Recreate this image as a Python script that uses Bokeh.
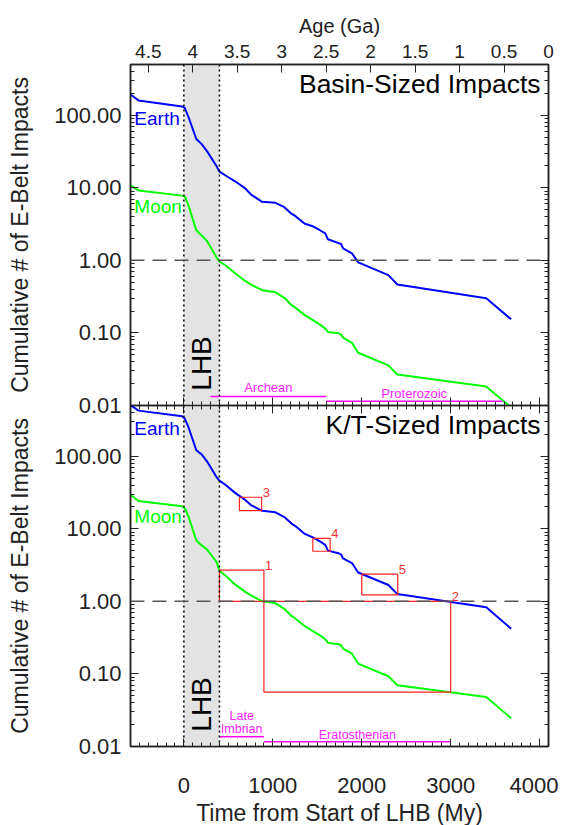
from bokeh.plotting import figure
from bokeh.models import (Range1d, LinearAxis, LogAxis, FixedTicker, PrintfTickFormatter,
                          Span, BoxAnnotation, Label, CustomJSTickFormatter)
from bokeh.layouts import column
from bokeh.embed import file_html
from bokeh.resources import INLINE

FONT = "Liberation Sans"
INK = "#222222"

# ---------------- data ----------------
time_my = [-600, -510, -20, 10, 50, 140, 200, 260, 370, 400, 460, 580, 690, 760, 880,
           1030, 1130, 1210, 1250, 1360, 1450, 1530, 1590, 1620, 1740, 1770, 1790,
           1890, 1960, 2300, 2400, 3400, 3680]

earth_basin = [193, 160, 132, 126, 96, 47, 40, 32, 19.6, 16.7, 15, 12.2, 9.8, 8.0, 6.4,
               6.2, 5.4, 4.4, 4.1, 3.2, 2.95, 2.6, 2.36, 1.95, 1.73, 1.68, 1.46,
               1.25, 0.94, 0.625, 0.465, 0.30, 0.154]
moon_basin = [10.8, 9.2, 7.8, 7.6, 5.8, 2.6, 2.2, 1.85, 1.09, 0.96, 0.87, 0.66, 0.52, 0.46, 0.388,
              0.363, 0.305, 0.243, 0.225, 0.176, 0.15, 0.13, 0.115, 0.103, 0.099, 0.094, 0.086,
              0.073, 0.0534, 0.0357, 0.0268, 0.0183, 0.0094]
earth_kt = [505, 425, 356, 330, 255, 121, 106, 85, 51, 46, 41, 31, 25, 21, 17.7,
            16.9, 14.5, 11.8, 11.0, 8.5, 7.6, 6.7, 6.0, 5.0, 4.6, 4.4, 3.9,
            3.37, 2.5, 1.68, 1.26, 0.83, 0.42]
moon_kt = [29.5, 24.2, 20.5, 19.2, 15, 6.9, 5.9, 5.2, 3.45, 2.65, 2.3, 1.7, 1.35, 1.2, 1.0,
           0.94, 0.79, 0.63, 0.585, 0.455, 0.39, 0.34, 0.30, 0.268, 0.257, 0.245, 0.224,
           0.19, 0.139, 0.093, 0.07, 0.048, 0.0245]

time_ticks = [0, 1000, 2000, 3000, 4000]
time_minor = list(range(-600, 4101, 100))
age_ticks = [4.5, 4.0, 3.5, 3.0, 2.5, 2.0, 1.5, 1.0, 0.5, 0.0]
age_labels = ["4.5", "4", "3.5", "3", "2.5", "2", "1.5", "1", "0.5", "0"]
y_ticks = [0.01, 0.1, 1, 10, 100]
y_minor = [m * 10.0 ** e for e in range(-2, 3) for m in range(1, 10)]

lhb_start, lhb_end = 0, 400

eras_basin = ["Archean", "Proterozoic"]
eras_basin_start = [300, 1600]
eras_basin_end = [1600, 3580]
eras_basin_level = [0.0133, 0.0114]
eras_basin_text_y = [0.0179, 0.0148]

eras_kt = ["Late", "Eratosthenian"]
eras_kt_start = [400, 900]
eras_kt_end = [900, 3000]
eras_kt_level = [0.0136, 0.0116]
eras_kt_text_y = [0.0264, 0.01445]
eras_kt_second_line = "Imbrian"

box_names = ["1", "2", "3", "4", "5"]
box_left = [400, 900, 625, 1450, 2000]
box_right = [900, 3000, 875, 1645, 2405]
box_bottom = [1.0, 0.056, 17.8, 4.9, 1.23]
box_top = [2.7, 1.0, 27.2, 7.4, 2.38]

OVERLAP = 14


def style_axis(ax, labels=True, minor=True):
    ax.axis_line_color = INK
    ax.axis_line_width = 1.5
    ax.major_tick_in = 8
    ax.major_tick_out = 0
    ax.minor_tick_in = 4 if minor else 0
    ax.minor_tick_out = 0
    ax.major_tick_line_color = INK
    ax.minor_tick_line_color = INK
    ax.major_label_text_font = FONT
    ax.major_label_text_color = INK
    ax.axis_label_text_font = FONT
    ax.axis_label_text_font_style = "normal"
    ax.axis_label_text_color = INK
    if not labels:
        ax.formatter = CustomJSTickFormatter(code="return ''")
        ax.major_label_text_font_size = "1px"
        ax.major_label_standoff = 0


def make_panel(earth, moon, title, top_panel):
    p = figure(frame_width=418, frame_height=341,
               x_range=Range1d(-600, 4100), y_range=Range1d(0.01, 500),
               y_axis_type="log", output_backend="svg", toolbar_location=None,
               min_border_left=130, min_border_right=10,
               min_border_top=64 if top_panel else 0,
               min_border_bottom=OVERLAP if top_panel else 74)
    p.grid.visible = False
    p.outline_line_color = INK
    p.outline_line_width = 1.5
    p.background_fill_color = "white"
    if top_panel:
        p.border_fill_color = "white"
    else:
        p.border_fill_alpha = 0.0
        p.margin = (-OVERLAP, 0, 0, 0)

    # left (labelled) log axis
    ly = p.left[0]
    ly.ticker = FixedTicker(ticks=y_ticks, minor_ticks=y_minor)
    ly.formatter = PrintfTickFormatter(format="%.2f")
    style_axis(ly)
    ly.major_label_text_font_size = "22px"
    ly.major_label_standoff = 9
    ly.axis_label = "Cumulative # of E-Belt Impacts"
    ly.axis_label_text_font_size = "23px"
    ly.axis_label_standoff = 18

    ry = LogAxis(ticker=FixedTicker(ticks=y_ticks, minor_ticks=y_minor))
    style_axis(ry, labels=False)
    p.add_layout(ry, "right")

    bx = p.below[0]
    bx.ticker = FixedTicker(ticks=time_ticks, minor_ticks=time_minor)
    if top_panel:
        style_axis(bx, labels=False)
        p.extra_x_ranges = {"age": Range1d(4.7, 0.0)}
        ax = LinearAxis(x_range_name="age",
                        ticker=FixedTicker(ticks=age_ticks, minor_ticks=[]),
                        major_label_overrides=dict(zip(age_ticks, age_labels)))
        style_axis(ax, minor=False)
        ax.major_label_text_font_size = "19px"
        ax.major_label_standoff = 7
        ax.axis_label = "Age (Ga)"
        ax.axis_label_text_font_size = "20px"
        ax.axis_label_standoff = 5
        p.add_layout(ax, "above")
    else:
        style_axis(bx)
        bx.major_label_text_font_size = "22px"
        bx.major_label_standoff = 31
        bx.axis_label = "Time from Start of LHB (My)"
        bx.axis_label_text_font_size = "23px"
        bx.axis_label_standoff = 4
        tx = LinearAxis(ticker=FixedTicker(ticks=time_ticks, minor_ticks=time_minor))
        style_axis(tx, labels=False)
        p.add_layout(tx, "above")

    # LHB band and markers
    p.add_layout(BoxAnnotation(left=lhb_start, right=lhb_end, fill_color="#e3e3e3",
                               fill_alpha=1.0, line_color=None, level="underlay"))
    for loc in (lhb_start, lhb_end):
        p.add_layout(Span(location=loc, dimension="height", line_color="black",
                          line_width=1.5, line_dash="2 3"))
    p.add_layout(Span(location=1, dimension="width", line_color="#555555",
                      line_width=1.5, line_dash="14 8"))

    p.line(time_my, earth, line_color="#0000ff", line_width=2)
    p.line(time_my, moon, line_color="#00ff00", line_width=2)

    p.add_layout(Label(x=200, y=0.016, text="LHB", angle=90, angle_units="deg",
                       text_align="left", text_baseline="middle", text_font=FONT,
                       text_font_size="28px", text_color="black"))
    p.add_layout(Label(x=4010, y=272, text=title, text_align="right",
                       text_baseline="middle", text_font=FONT,
                       text_font_size="26.5px", text_color="black"))

    ey, my = (89, 5.55) if top_panel else (243, 14.9)
    p.add_layout(Label(x=-557, y=ey, text="Earth", text_align="left", text_baseline="middle",
                       text_font=FONT, text_font_size="19px", text_color="#0000ff"))
    p.add_layout(Label(x=-557, y=my, text="Moon", text_align="left", text_baseline="middle",
                       text_font=FONT, text_font_size="19px", text_color="#00ff00"))
    return p


p1 = make_panel(earth_basin, moon_basin, "Basin-Sized Impacts", True)
p2 = make_panel(earth_kt, moon_kt, "K/T-Sized Impacts", False)

# geologic eras
for name, s, e, lvl, ty in zip(eras_basin, eras_basin_start, eras_basin_end,
                               eras_basin_level, eras_basin_text_y):
    p1.line([s, e], [lvl, lvl], line_color="#ff00ff", line_width=1.5)
    p1.add_layout(Label(x=(s + e) / 2, y=ty, text=name, text_align="center",
                        text_baseline="middle", text_font=FONT, text_font_size="13px",
                        text_color="#ff22ff"))
for name, s, e, lvl, ty in zip(eras_kt, eras_kt_start, eras_kt_end,
                               eras_kt_level, eras_kt_text_y):
    p2.line([s, e], [lvl, lvl], line_color="#ff00ff", line_width=1.5)
    p2.add_layout(Label(x=(s + e) / 2, y=ty, text=name, text_align="center",
                        text_baseline="middle", text_font=FONT, text_font_size="12.5px",
                        text_color="#ff22ff"))
p2.add_layout(Label(x=(eras_kt_start[0] + eras_kt_end[0]) / 2, y=0.0177,
                    text=eras_kt_second_line, text_align="center", text_baseline="middle",
                    text_font=FONT, text_font_size="12.5px", text_color="#ff22ff"))

# red uncertainty boxes
p2.quad(left=box_left, right=box_right, bottom=box_bottom, top=box_top,
        fill_color=None, line_color="#ff2020", line_width=1.2)
for n, r, t in zip(box_names, box_right, box_top):
    p2.add_layout(Label(x=r, y=t, text=n, text_align="left", text_baseline="bottom",
                        x_offset=1, text_font=FONT, text_font_size="13px",
                        text_color="#ff3030"))

layout = column(p1, p2, spacing=0)
open("out.html", "w").write(file_html(layout, INLINE))
